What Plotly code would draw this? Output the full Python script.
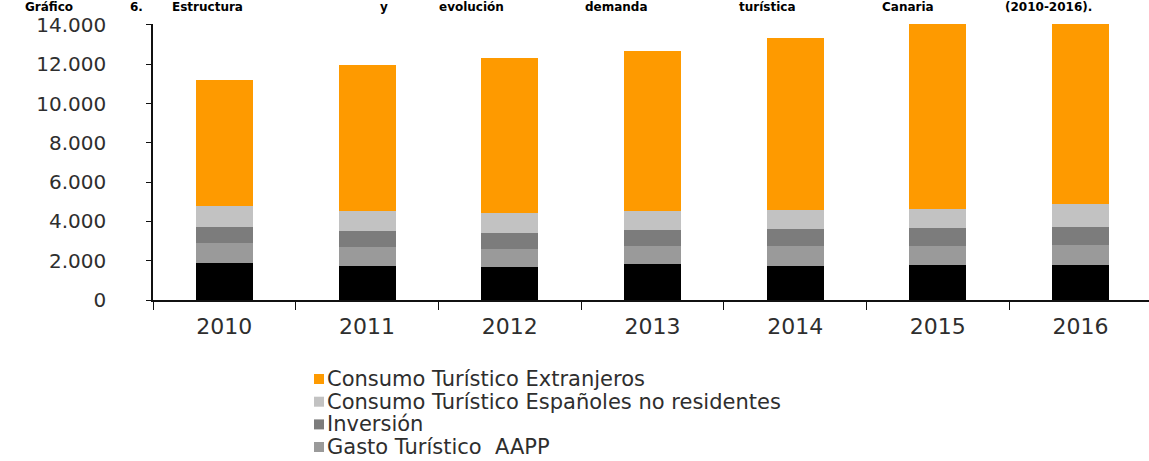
import plotly.graph_objects as go

# Demanda turística de Canarias por componentes (millones de euros)
years = ["2010", "2011", "2012", "2013", "2014", "2015", "2016"]

residentes = [1870, 1730, 1660, 1820, 1750, 1780, 1780]
gasto_aapp = [1020, 980, 940, 950, 1010, 990, 1020]
inversion = [850, 800, 800, 800, 880, 880, 930]
espanoles_no_res = [1020, 1030, 1020, 980, 930, 970, 1150]
extranjeros = [6450, 7410, 7890, 8140, 8790, 9440, 9160]

y_ticks = [0, 2000, 4000, 6000, 8000, 10000, 12000, 14000]

title_words = ["Gráfico", "6.", "Estructura", "y", "evolución", "demanda",
               "turística", "Canaria", "(2010-2016)."]

# stacking order: bottom to top
series = [
    ("Consumo Turístico Residentes", residentes, "#000000"),
    ("Gasto Turístico  AAPP", gasto_aapp, "#9a9a9a"),
    ("Inversión", inversion, "#7c7c7c"),
    ("Consumo Turístico Españoles no residentes", espanoles_no_res, "#c2c2c2"),
    ("Consumo Turístico Extranjeros", extranjeros, "#fe9a00"),
]

W, H = 1149, 461
M_L, M_R, M_T, M_B = 153, 0, 24, 161
plot_h = H - M_T - M_B
cat_px = 142.7

FONT = "DejaVu Sans"
TXT = "#2e2e2e"

fig = go.Figure()
for name, vals, col in series:
    fig.add_trace(go.Bar(
        x=years, y=vals, name=name, marker=dict(color=col, line=dict(width=0)),
        width=0.4, showlegend=False,
    ))


def py(px):
    """pixel row -> paper y"""
    return (H - M_B - px) / plot_h


def pxx(px):
    """pixel column -> paper x"""
    return (px - M_L) / (W - M_L - M_R)


annotations = []
shapes = []

# legend drawn top-down, from the top of the stack
legend_rows = [379, 401.7, 424.4, 447]
legend_items = list(reversed(series))[:4]
for (name, _, col), yc in zip(legend_items, legend_rows):
    shapes.append(dict(
        type="rect", xref="paper", yref="paper",
        x0=pxx(314), x1=pxx(324), y0=py(yc + 5), y1=py(yc - 5),
        fillcolor=col, line=dict(width=0), layer="above",
    ))
    annotations.append(dict(
        text=name, xref="paper", yref="paper", x=pxx(325), y=py(yc),
        xanchor="left", yanchor="middle", showarrow=False,
        font=dict(family=FONT, size=21, color=TXT),
    ))

# justified heading across the top edge
word_x = [75, 128, 170, 378, 437, 583, 737, 880, 1003]
for i, (w, x) in enumerate(zip(title_words, word_x)):
    annotations.append(dict(
        text=f"<b>{w}</b>", xref="paper", yref="paper", x=pxx(x), y=py(6.5),
        xanchor="right" if i == 0 else "left", yanchor="middle",
        showarrow=False, font=dict(family=FONT, size=12, color="#000000"),
    ))

fig.update_layout(
    barmode="stack",
    width=W, height=H,
    margin=dict(l=M_L, r=M_R, t=M_T, b=M_B, pad=0, autoexpand=False),
    paper_bgcolor="white", plot_bgcolor="white",
    separators=",.",
    showlegend=False,
    annotations=annotations,
    shapes=shapes,
    xaxis=dict(
        type="category",
        range=[-0.5, -0.5 + (W - M_L - M_R) / cat_px],
        showline=True, linecolor="#111111", linewidth=1.5,
        ticks="outside", tickson="boundaries", ticklen=8, tickwidth=1,
        tickcolor="#111111", ticklabelstandoff=6,
        tickfont=dict(family=FONT, size=22, color=TXT),
        showgrid=False, zeroline=False,
    ),
    yaxis=dict(
        range=[0, 14050],
        tickvals=y_ticks, tickformat=",d",
        showline=True, linecolor="#111111", linewidth=1.5,
        ticks="outside", ticklen=5, tickwidth=1, tickcolor="#111111",
        ticklabelstandoff=36,
        tickfont=dict(family=FONT, size=20, color=TXT),
        showgrid=False, zeroline=False,
    ),
)

fig.write_html("out.html")
